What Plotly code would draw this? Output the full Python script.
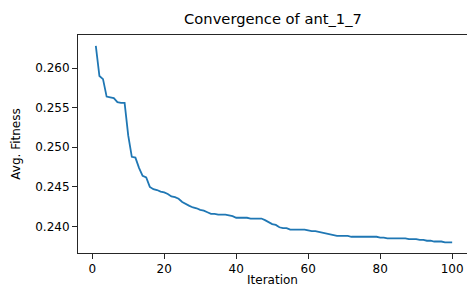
import plotly.graph_objects as go

iterations = list(range(1, 101))
avg_fitness = [
    0.2628, 0.2590, 0.2586, 0.2564, 0.2563, 0.2562, 0.2557, 0.2556, 0.2556, 0.2515,
    0.2488, 0.2487, 0.2474, 0.2464, 0.2462, 0.2450, 0.2447, 0.2446, 0.2444, 0.2443,
    0.2441, 0.2438, 0.2437, 0.2435, 0.2431, 0.2428, 0.2426, 0.2424, 0.2423, 0.2421,
    0.2420, 0.2418, 0.2416, 0.2416, 0.2415, 0.2415, 0.2415, 0.2414, 0.2413, 0.2411,
    0.2411, 0.2411, 0.2411, 0.2410, 0.2410, 0.2410, 0.2410, 0.2408, 0.2405, 0.2403,
    0.2402, 0.2399, 0.2398, 0.2398, 0.2396, 0.2396, 0.2396, 0.2396, 0.2396, 0.2395,
    0.2394, 0.2394, 0.2393, 0.2392, 0.2391, 0.2390, 0.2389, 0.2388, 0.2388, 0.2388,
    0.2388, 0.2387, 0.2387, 0.2387, 0.2387, 0.2387, 0.2387, 0.2387, 0.2387, 0.2386,
    0.2386, 0.2385, 0.2385, 0.2385, 0.2385, 0.2385, 0.2385, 0.2384, 0.2384, 0.2384,
    0.2383, 0.2383, 0.2382, 0.2382, 0.2381, 0.2381, 0.2381, 0.2380, 0.2380, 0.2380,
]
x_ticks = [0, 20, 40, 60, 80, 100]
y_ticks = [0.240, 0.245, 0.250, 0.255, 0.260]
title_text = "Convergence of ant_1_7"
x_label = "Iteration"
y_label = "Avg. Fitness"

font_family = "DejaVu Sans"
axis_color = "#262626"

fig = go.Figure()
fig.add_trace(go.Scatter(
    x=iterations, y=avg_fitness, mode="lines",
    line=dict(color="#1f77b4", width=1.8),
    showlegend=False,
))

fig.update_layout(
    width=467, height=291,
    margin=dict(l=78, r=0, t=35, b=38),
    paper_bgcolor="white", plot_bgcolor="white",
    font=dict(family=font_family, size=12, color="#000000"),
    title=dict(text=title_text, x=(273 / 467), xanchor="center",
               y=1 - 19 / 291, yanchor="middle",
               font=dict(family=font_family, size=14.7, color="#000000")),
)
fig.update_xaxes(
    range=[-3.95, 104.12],
    tickvals=x_ticks, ticktext=[str(v) for v in x_ticks],
    ticks="outside", ticklen=5, tickwidth=1, tickcolor=axis_color,
    showline=True, linecolor=axis_color, linewidth=1, mirror=True,
    showgrid=False, zeroline=False,
    title=dict(text=x_label, standoff=0, font=dict(size=12)),
    tickfont=dict(size=12),
)
fig.update_yaxes(
    range=[0.23665, 0.26418],
    tickvals=y_ticks, ticktext=[f"{v:.3f}" for v in y_ticks],
    ticks="outside", ticklen=5, tickwidth=1, tickcolor=axis_color,
    showline=True, linecolor=axis_color, linewidth=1, mirror=False,
    showgrid=False, zeroline=False,
    title=dict(text=y_label, standoff=12, font=dict(size=12)),
    tickfont=dict(size=12),
)

fig.write_html(
    "out.html",
    config={"displayModeBar": False},
    post_script="document.body.style.margin='0';document.body.style.overflow='hidden';",
)
